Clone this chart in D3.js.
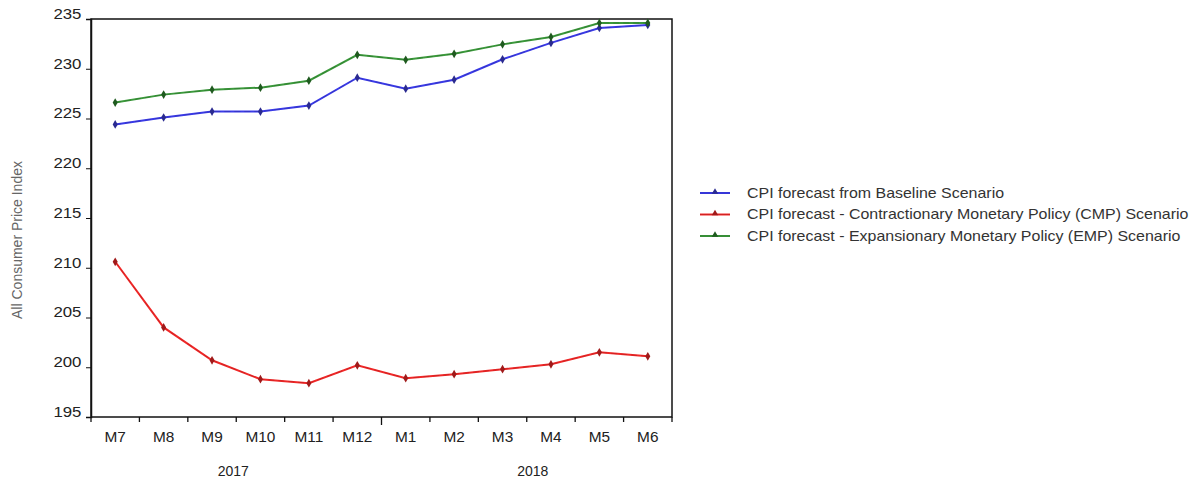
<!DOCTYPE html>
<html>
<head>
<meta charset="utf-8">
<script src="https://cdn.jsdelivr.net/npm/d3@7"></script>
<style>
  body { margin: 0; background: #fff; }
  svg { font-family: "Liberation Sans", Arial, sans-serif; }
</style>
</head>
<body>
<div id="chart"></div>
<script>
const months = ["M7", "M8", "M9", "M10", "M11", "M12", "M1", "M2", "M3", "M4", "M5", "M6"];
const years = [
  { label: "2017", from: 0, to: 5 },
  { label: "2018", from: 6, to: 11 },
];
const yTicks = [195, 200, 205, 210, 215, 220, 225, 230, 235];

const baseline = [224.4, 225.1, 225.7, 225.7, 226.3, 229.1, 228.0, 228.9, 230.95, 232.6, 234.1, 234.4];
const contractionary = [210.6, 204.0, 200.7, 198.8, 198.4, 200.2, 198.9, 199.3, 199.8, 200.3, 201.5, 201.1];
const expansionary = [226.6, 227.4, 227.9, 228.1, 228.8, 231.4, 230.9, 231.5, 232.45, 233.2, 234.6, 234.6];

const series = [
  { name: "CPI forecast from Baseline Scenario", values: baseline, color: "#3a3ae8", dot: "#2a2a90" },
  { name: "CPI forecast - Contractionary Monetary Policy (CMP) Scenario", values: contractionary, color: "#f02828", dot: "#a01a1a" },
  { name: "CPI forecast - Expansionary Monetary Policy (EMP) Scenario", values: expansionary, color: "#3c9a3c", dot: "#1f5a1f" },
];

const W = 1201, H = 490;
const MARGIN = { TOP: 19, LEFT: 91, RIGHT: 529, BOTTOM: 73 };
const WIDTH = W - MARGIN.LEFT - MARGIN.RIGHT;
const HEIGHT = H - MARGIN.TOP - MARGIN.BOTTOM;

const svg = d3.select("#chart").append("svg").attr("width", W).attr("height", H);
const g = svg.append("g").attr("transform", `translate(${MARGIN.LEFT}, ${MARGIN.TOP})`);

const x = d3.scaleBand().domain(months.map((m, i) => i)).range([0, WIDTH]);
const y = d3.scaleLinear().domain([195, 235]).range([HEIGHT, 0]);

// frame
g.append("rect")
  .attr("width", WIDTH).attr("height", HEIGHT)
  .attr("fill", "none").attr("stroke", "#111").attr("stroke-width", 1.5);

// y axis
const yAxis = g.append("g").call(d3.axisLeft(y).tickValues(yTicks).tickSize(5).tickPadding(3));
yAxis.select(".domain").attr("stroke", "#111").attr("stroke-width", 1.5);
yAxis.selectAll(".tick line").attr("stroke", "#111");
yAxis.selectAll("text").attr("font-size", 14).attr("fill", "#222")
  .attr("transform", "scale(1.2,1)").attr("dy", "-0.05em");

// x axis: ticks at band boundaries
const xg = g.append("g").attr("transform", `translate(0, ${HEIGHT})`);
d3.range(months.length + 1).forEach((i) => {
  const px = i < months.length ? x(i) : WIDTH;
  const len = i === 6 ? 8 : 5;
  xg.append("line").attr("x1", px).attr("x2", px).attr("y1", 0).attr("y2", len)
    .attr("stroke", "#111").attr("stroke-width", 1.3);
});
xg.selectAll(".mlabel").data(months).enter().append("text")
  .attr("class", "mlabel")
  .attr("transform", (d, i) => `translate(${x(i) + x.bandwidth() / 2}, 25) scale(1.1,1)`)
  .attr("text-anchor", "middle")
  .attr("font-size", 14).attr("fill", "#222")
  .text((d) => d);
xg.selectAll(".ylabel").data(years).enter().append("text")
  .attr("class", "ylabel")
  .attr("x", (d) => (x(d.from) + x(d.to) + x.bandwidth()) / 2 + (d.from ? 6 : -3))
  .attr("y", 59)
  .attr("text-anchor", "middle")
  .attr("font-size", 14).attr("fill", "#222")
  .text((d) => d.label);

// y title
svg.append("text")
  .attr("transform", `translate(22, 240) rotate(-90)`)
  .attr("text-anchor", "middle")
  .attr("font-size", 14).attr("fill", "#666")
  .text("All Consumer Price Index");

// lines
const line = d3.line().x((d, i) => x(i) + x.bandwidth() / 2).y((d) => y(d));
series.forEach((s) => {
  g.append("path").datum(s.values)
    .attr("fill", "none").attr("stroke", s.color).attr("stroke-width", 2)
    .attr("d", line);
  g.append("path").datum(s.values)
    .attr("fill", "none").attr("stroke", s.dot).attr("stroke-width", 0.6)
    .attr("stroke-dasharray", "6,4").attr("opacity", 0.6)
    .attr("d", line);
  g.selectAll(null).data(s.values).enter().append("path")
    .attr("d", d3.symbol(d3.symbolDiamond, 22))
    .attr("transform", (d, i) => `translate(${x(i) + x.bandwidth() / 2}, ${y(d)})`)
    .attr("fill", s.dot);
});

// legend
const legend = svg.append("g").attr("transform", "translate(700, 193)");
series.forEach((s, i) => {
  const row = legend.append("g").attr("transform", `translate(0, ${i * 21.5})`);
  row.append("line").attr("x1", 0).attr("x2", 30).attr("stroke", s.color).attr("stroke-width", 2);
  row.append("line").attr("x1", 0).attr("x2", 30).attr("stroke", s.dot).attr("stroke-width", 0.6).attr("opacity", 0.6);
  row.append("path").attr("d", d3.symbol(d3.symbolTriangle, 18)).attr("transform", "translate(15,-1)").attr("fill", s.dot);
  row.append("text").attr("transform", "translate(47,0) scale(1.14,1)").attr("dy", "0.35em")
    .attr("font-size", 14).attr("fill", "#333")
    .text(s.name);
});
</script>
</body>
</html>
